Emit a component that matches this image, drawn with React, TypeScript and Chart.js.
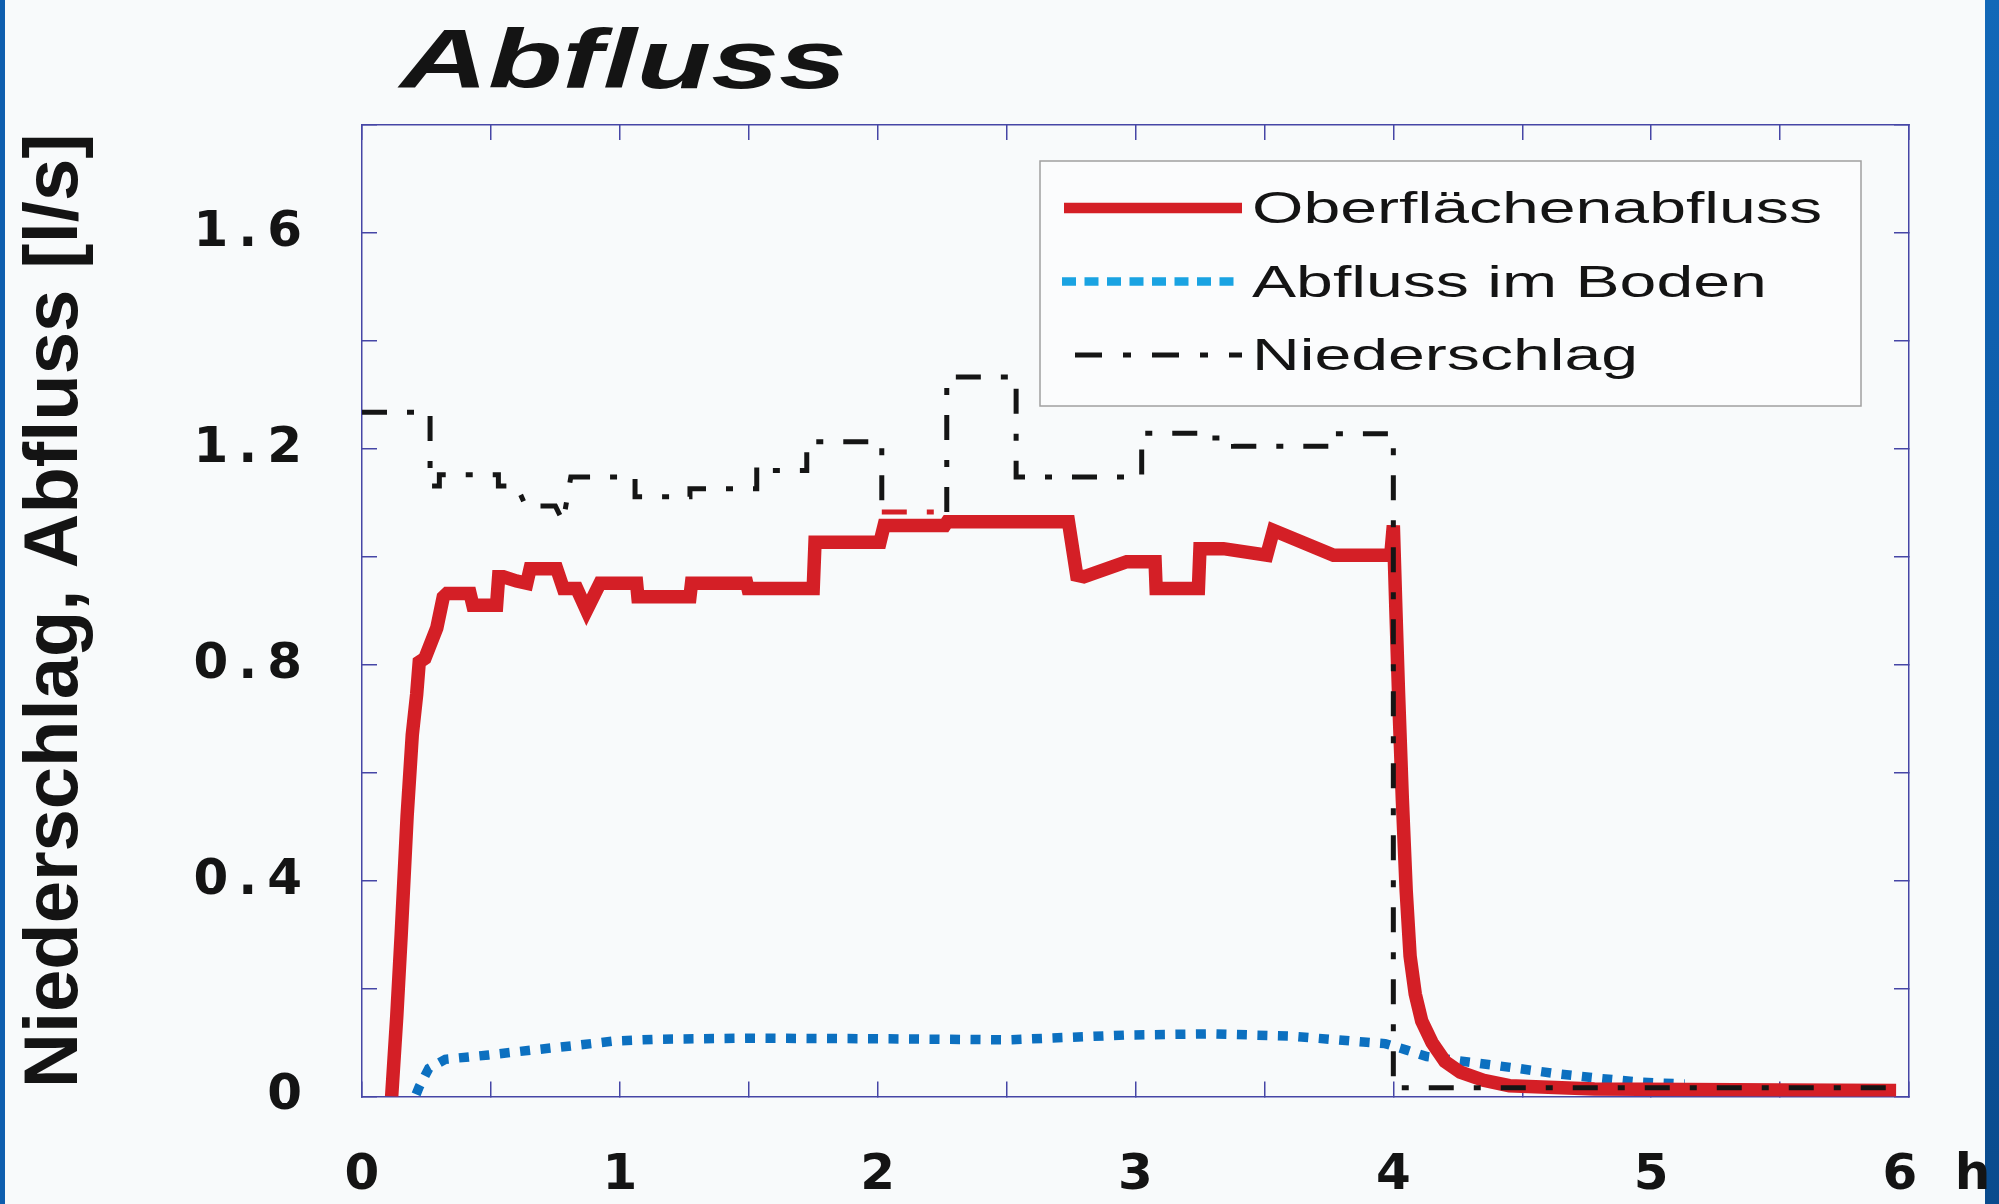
import React, { useEffect, useRef } from 'react';
import { Chart, registerables } from 'chart.js';

Chart.register(...registerables);

// ---- text ----
const TITLE = 'Abfluss';
const Y_TITLE = 'Niederschlag, Abfluss [l/s]';
const SERIES_LABELS = ['Oberflächenabfluss', 'Abfluss im Boden', 'Niederschlag'];
const X_TICK_LABELS = ['0', '1', '2', '3', '4', '5', '6 h'];
const Y_TICK_LABELS = ['0', '0.4', '0.8', '1.2', '1.6'];

// ---- Oberflächenabfluss (surface runoff) ----
const surfaceHours = [
  0.115, 0.135, 0.152, 0.175, 0.195, 0.212, 0.222, 0.244, 0.29, 0.315, 0.33, 0.419, 0.43, 0.522, 0.53, 0.548,
  0.6, 0.639, 0.652, 0.755, 0.781, 0.833, 0.871, 0.923, 1.065, 1.07, 1.272, 1.278, 1.492, 1.497,
  1.75, 1.757, 2.009, 2.025, 2.26, 2.27, 2.74, 2.772, 2.8, 2.966, 3.076, 3.08, 3.244, 3.25, 3.341,
  3.509, 3.535, 3.768, 3.99, 4.0, 4.01, 4.02, 4.035, 4.05, 4.065, 4.085, 4.11, 4.15, 4.2,
  4.26, 4.35, 4.45, 4.78, 5.5, 5.95,
];
const surfaceFlow = [
  0, 0.15, 0.3, 0.52, 0.67, 0.745, 0.805, 0.812, 0.868, 0.925, 0.932, 0.932, 0.91, 0.91, 0.963, 0.963,
  0.955, 0.951, 0.978, 0.978, 0.941, 0.941, 0.901, 0.951, 0.951, 0.926, 0.926, 0.951, 0.951, 0.941,
  0.941, 1.027, 1.027, 1.058, 1.058, 1.065, 1.065, 0.966, 0.963, 0.991, 0.991, 0.941, 0.941, 1.015, 1.015,
  1.003, 1.049, 1.003, 1.003, 1.058, 0.9, 0.75, 0.55, 0.38, 0.26, 0.19, 0.14, 0.1, 0.065,
  0.045, 0.03, 0.02, 0.014, 0.012, 0.011,
];

// ---- Abfluss im Boden (soil flow) ----
const soilHours = [
  0.21, 0.222, 0.259, 0.323, 0.491, 0.659, 0.815, 0.983, 1.138, 1.5, 2.0, 2.5, 2.97, 3.3, 3.6,
  3.884, 3.968, 4.052, 4.13, 4.29, 4.453, 4.62, 4.79, 4.944, 5.13,
];
const soilFlow = [
  0.004, 0.018, 0.052, 0.069, 0.077, 0.086, 0.094, 0.103, 0.106, 0.108, 0.107, 0.105, 0.114, 0.116, 0.112,
  0.101, 0.098, 0.086, 0.074, 0.064, 0.054, 0.043, 0.034, 0.027, 0.023,
];

// ---- Niederschlag (precipitation) ----
const rainHours = [
  0, 0.264, 0.264, 0.3, 0.3, 0.529, 0.529, 0.6, 0.635, 0.75, 0.78, 0.81, 1.059, 1.059, 1.272, 1.272,
  1.531, 1.531, 1.57, 1.725, 1.725, 2.016, 2.016, 2.268, 2.268, 2.537, 2.537, 3.024, 3.024, 3.283,
  3.283, 3.38, 3.38, 3.75, 3.75, 4.0, 4.0, 5.96,
];
const rain = [
  1.268, 1.268, 1.131, 1.131, 1.152, 1.152, 1.131, 1.131, 1.094, 1.094, 1.065, 1.148, 1.148, 1.111, 1.111, 1.126,
  1.126, 1.17, 1.16, 1.16, 1.213, 1.213, 1.083, 1.083, 1.333, 1.333, 1.148, 1.148, 1.229, 1.229,
  1.22, 1.22, 1.205, 1.205, 1.228, 1.228, 0.016, 0.016,
];

const RED = '#d41f26';
const BLUE = '#0c70c0';
const BLUE_LEGEND = '#1aa3e2';
const BLACK = '#151515';
const FRAME = '#4646a6';
const TEXT = '#141414';
const BG = '#f8fafb';

const toPoints = (xs: number[], ys: number[]) => xs.map((x, i) => ({ x, y: ys[i] }));

const overlayPlugin = {
  id: 'overlay',
  beforeDraw(chart: any) {
    chart.ctx.letterSpacing = '0px';
  },
  afterDatasetsDraw(chart: any) {
    // tick labels (z = 1) are drawn after the datasets: give them the wide spacing of the original
    chart.ctx.letterSpacing = '10px';
  },
  afterDraw(chart: any) {
    const ctx = chart.ctx;
    ctx.letterSpacing = '0px';
    const ca = chart.chartArea;

    // title
    ctx.save();
    ctx.font = 'italic bold 84px "Liberation Sans", Arial, sans-serif';
    ctx.fillStyle = TEXT;
    ctx.textBaseline = 'alphabetic';
    ctx.textAlign = 'left';
    ctx.translate(ca.left + 38, ca.top - 37);
    ctx.scale(1.45, 1);
    ctx.fillText(TITLE, 0, 0);
    ctx.restore();

    // legend box
    const boxR = ca.right - 48;
    const boxL = boxR - 821;
    const boxT = ca.top + 36;
    const boxH = 245;
    ctx.save();
    ctx.fillStyle = '#fbfcfd';
    ctx.fillRect(boxL, boxT, boxR - boxL, boxH);
    ctx.strokeStyle = '#a0a0a0';
    ctx.lineWidth = 1.5;
    ctx.strokeRect(boxL, boxT, boxR - boxL, boxH);
    ctx.restore();

    chart.data.datasets.forEach((ds: any, i: number) => {
      const base = boxT + 62 + i * 73.5;
      const ly = base - 15;
      ctx.save();
      ctx.strokeStyle = ds.legendColor || ds.borderColor;
      ctx.lineWidth = ds.legendWidth || ds.borderWidth;
      ctx.setLineDash(ds.legendDash || []);
      ctx.lineCap = 'butt';
      ctx.beginPath();
      ctx.moveTo(boxL + (ds.legendStart || 24), ly);
      ctx.lineTo(boxL + 202, ly);
      ctx.stroke();
      ctx.restore();

      ctx.save();
      ctx.font = '45px "Liberation Sans", Arial, sans-serif';
      ctx.fillStyle = TEXT;
      ctx.textBaseline = 'alphabetic';
      ctx.textAlign = 'left';
      ctx.translate(boxL + 212, base);
      ctx.scale(1.47, 1);
      ctx.fillText(ds.label, 0, 0);
      ctx.restore();
    });
  },
};

export default function App() {
  const ref = useRef<HTMLCanvasElement>(null);

  useEffect(() => {
    const canvas = ref.current;
    if (!canvas) return;

    const tickFont = { family: '"DejaVu Sans", sans-serif', size: 50, weight: 'bold' as const };
    const grid = {
      display: true,
      drawOnChartArea: false,
      drawTicks: true,
      tickLength: -15,
      color: FRAME,
      lineWidth: 1.5,
    };
    const border = { display: true, color: FRAME, width: 1.5 };

    const chart = new Chart(canvas, {
      type: 'line',
      data: {
        datasets: [
          {
            label: SERIES_LABELS[0],
            data: toPoints(surfaceHours, surfaceFlow),
            borderColor: RED,
            borderWidth: 13.5,
            pointRadius: 0,
            tension: 0,
            order: 2,
            legendWidth: 10.5,
          } as any,
          {
            label: SERIES_LABELS[1],
            data: toPoints(soilHours, soilFlow),
            borderColor: BLUE,
            borderWidth: 9.5,
            borderDash: [10, 10.5],
            pointRadius: 0,
            tension: 0,
            order: 3,
            legendColor: BLUE_LEGEND,
            legendWidth: 8.5,
            legendDash: [14, 8.5],
            legendStart: 22,
          } as any,
          {
            label: SERIES_LABELS[2],
            data: toPoints(rainHours, rain),
            borderColor: BLACK,
            borderWidth: 5,
            borderDash: [25, 20, 7, 20],
            pointRadius: 0,
            tension: 0,
            order: 1,
            legendWidth: 5,
            legendDash: [27, 21, 8, 21],
            legendStart: 35,
            segment: {
              borderColor: (c: any) =>
                c.p0.parsed.x > 2.0 && c.p1.parsed.x < 2.3 && c.p0.parsed.x !== c.p1.parsed.x ? RED : undefined,
            },
          } as any,
        ],
      },
      options: {
        responsive: false,
        animation: false,
        devicePixelRatio: 1,
        layout: { padding: { left: 0, right: 90, top: 125, bottom: 0 } },
        plugins: {
          legend: { display: false },
          tooltip: { enabled: false },
          title: { display: false },
        },
        scales: {
          x: {
            type: 'linear',
            position: 'bottom',
            min: 0,
            max: 6,
            grid,
            border,
            ticks: {
              stepSize: 0.5,
              maxTicksLimit: 13,
              autoSkip: false,
              maxRotation: 0,
              minRotation: 0,
              padding: 65,
              labelOffset: 5,
              z: 1,
              color: TEXT,
              font: tickFont,
              callback: (v: any) => {
                const r = Math.round(Number(v) * 2);
                if (r % 2 !== 0) return '';
                const lab = X_TICK_LABELS[r / 2] ?? '';
                return lab.includes(' ') ? '  ' + lab : lab;
              },
            },
            afterFit: (s: any) => {
              s.height = 107.5;
              s.paddingLeft = 0;
              s.paddingRight = 0;
            },
          },
          x2: {
            type: 'linear',
            position: 'top',
            min: 0,
            max: 6,
            grid,
            border,
            ticks: { display: false, stepSize: 0.5, maxTicksLimit: 13, autoSkip: false },
            afterFit: (s: any) => {
              s.height = 0;
              s.paddingLeft = 0;
              s.paddingRight = 0;
            },
          },
          y: {
            type: 'linear',
            position: 'left',
            min: 0,
            max: 1.8,
            grid,
            border,
            title: {
              display: true,
              text: Y_TITLE,
              color: TEXT,
              font: { family: '"Liberation Sans", Arial, sans-serif', size: 76, weight: 'bold' },
              padding: { top: 10, bottom: 0 },
            },
            ticks: {
              stepSize: 0.2,
              maxTicksLimit: 11,
              autoSkip: false,
              padding: 65,
              z: 1,
              color: TEXT,
              font: tickFont,
              callback: (v: any) => {
                const r = Math.round(Number(v) * 10);
                if (r % 4 !== 0) return '';
                return Y_TICK_LABELS[r / 4] ?? '';
              },
            },
            afterFit: (s: any) => {
              s.width = 362;
              s.paddingTop = 0;
              s.paddingBottom = 0;
            },
          },
          y2: {
            type: 'linear',
            position: 'right',
            min: 0,
            max: 1.8,
            grid,
            border,
            ticks: { display: false, stepSize: 0.2, maxTicksLimit: 11, autoSkip: false },
            afterFit: (s: any) => {
              s.width = 0;
              s.paddingTop = 0;
              s.paddingBottom = 0;
            },
          },
        },
      } as any,
      plugins: [overlayPlugin as any],
    });

    return () => chart.destroy();
  }, []);

  return (
    <div
      style={{
        position: 'fixed',
        left: 0,
        top: 0,
        width: 1999,
        height: 1204,
        background: BG,
        overflow: 'hidden',
      }}
    >
      <div style={{ position: 'absolute', left: 0, top: 0, width: 5, height: 1204, background: '#0e5eae' }} />
      <div
        style={{
          position: 'absolute',
          left: 1985,
          top: 0,
          width: 14,
          height: 1204,
          background: 'linear-gradient(180deg, #1268b8 0%, #0d5ba8 45%, #0a4b8d 100%)',
        }}
      />
      <canvas
        ref={ref}
        width={1999}
        height={1204}
        style={{ position: 'absolute', left: 0, top: 0, width: 1999, height: 1204 }}
      />
    </div>
  );
}
